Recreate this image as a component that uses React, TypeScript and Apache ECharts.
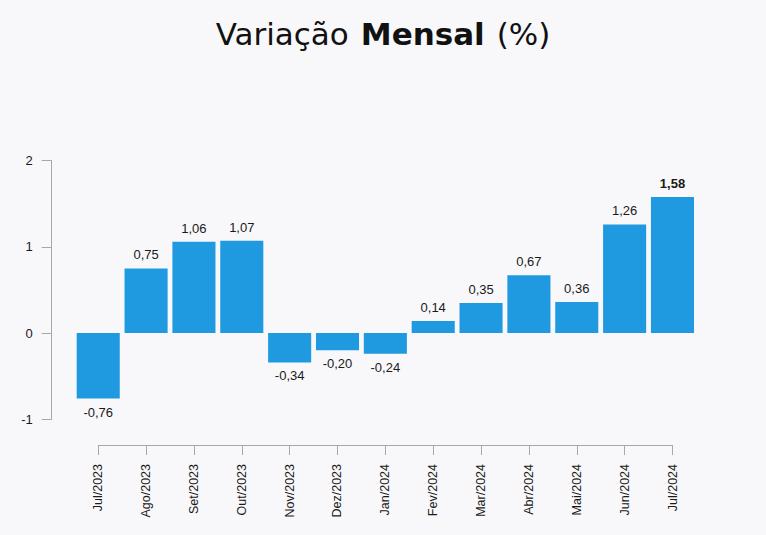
import React, { useEffect, useRef } from "react";
import * as echarts from "echarts";

// Meses (eixo x) e variação mensal em %
const categories = [
  "Jul/2023", "Ago/2023", "Set/2023", "Out/2023", "Nov/2023", "Dez/2023",
  "Jan/2024", "Fev/2024", "Mar/2024", "Abr/2024", "Mai/2024", "Jun/2024", "Jul/2024",
];
const values = [-0.76, 0.75, 1.06, 1.07, -0.34, -0.2, -0.24, 0.14, 0.35, 0.67, 0.36, 1.26, 1.58];
const yTicks = { min: -1, max: 2, interval: 1 };

const BAR_COLOR = "#1f99df";
const TEXT_COLOR = "#1a1a1a";
const AXIS_COLOR = "#a8a8a8";
const LABEL_FONT = "'Liberation Sans', Arial, sans-serif";
const TITLE_FONT = "'DejaVu Sans', Tahoma, sans-serif";

const fmt = (v: number) => v.toFixed(2).replace(".", ",");

export default function App() {
  const ref = useRef<HTMLDivElement>(null);

  useEffect(() => {
    if (!ref.current) return;
    const chart = echarts.init(ref.current, undefined, { renderer: "svg" });
    const last = values.length - 1;

    chart.setOption({
      animation: false,
      backgroundColor: "#f8f8fa",
      title: {
        left: "center",
        top: 13,
        text: "{a|Variação}{b|Mensal}{a|(%)}",
        textStyle: {
          fontWeight: "normal",
          rich: {
            a: { fontFamily: TITLE_FONT, fontSize: 31, fontWeight: "normal", color: "#111" },
            b: {
              fontFamily: TITLE_FONT,
              fontSize: 31,
              fontWeight: "bold",
              color: "#111",
              padding: [0, 12, 0, 12],
            },
          },
        },
      },
      grid: [
        { left: 74.3, right: 69.6, top: 160.7, bottom: 115.7 },
        { left: 98.2, right: 93.5, top: 160.7, bottom: 90 },
      ],
      xAxis: [
        {
          type: "category",
          gridIndex: 0,
          data: categories,
          boundaryGap: true,
          show: false,
        },
        {
          type: "category",
          gridIndex: 1,
          data: categories,
          boundaryGap: false,
          axisLine: { onZero: false, lineStyle: { color: AXIS_COLOR, width: 1 } },
          axisTick: { length: 10, lineStyle: { color: AXIS_COLOR } },
          axisLabel: {
            rotate: 90,
            margin: 19,
            interval: 0,
            color: TEXT_COLOR,
            fontSize: 12.5,
            fontFamily: LABEL_FONT,
          },
        },
      ],
      yAxis: [
        {
          type: "value",
          gridIndex: 0,
          min: yTicks.min,
          max: yTicks.max,
          interval: yTicks.interval,
          offset: 22.6,
          splitLine: { show: false },
          axisLine: { show: true, lineStyle: { color: AXIS_COLOR, width: 1 } },
          axisTick: { show: true, length: 10, lineStyle: { color: AXIS_COLOR } },
          axisLabel: {
            margin: 19,
            color: TEXT_COLOR,
            fontSize: 13,
            fontFamily: LABEL_FONT,
          },
        },
        { type: "value", gridIndex: 1, show: false, min: yTicks.min, max: yTicks.max },
      ],
      series: [
        {
          type: "bar",
          xAxisIndex: 0,
          yAxisIndex: 0,
          barCategoryGap: "10%",
          itemStyle: { color: BAR_COLOR },
          label: {
            show: true,
            distance: 7,
            color: TEXT_COLOR,
            fontSize: 13,
            fontFamily: LABEL_FONT,
            formatter: (p: any) => fmt(p.value),
          },
          data: values.map((v, i) => ({
            value: v,
            label: {
              position: v < 0 ? "bottom" : "top",
              fontWeight: i === last ? "bold" : "normal",
            },
          })),
        },
      ],
    });

    return () => chart.dispose();
  }, []);

  return (
    <div
      ref={ref}
      style={{ position: "fixed", left: 0, top: 0, width: 766, height: 535 }}
    />
  );
}
